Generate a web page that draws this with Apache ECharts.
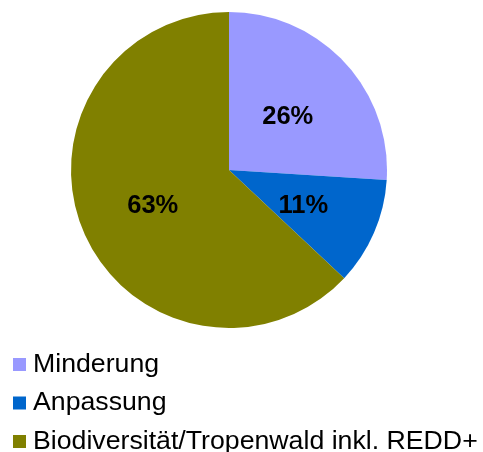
<!DOCTYPE html>
<html>
<head>
<meta charset="utf-8">
<script src="https://cdn.jsdelivr.net/npm/echarts@6/dist/echarts.min.js"></script>
<style>html,body{margin:0;padding:0;background:#fff;}#c{width:483px;height:452px;}</style>
</head>
<body>
<div id="c"></div>
<script>
const categories = ['Minderung', 'Anpassung', 'Biodiversität/Tropenwald inkl. REDD+'];
const values = [26, 11, 63];
const colors = ['#9999FF', '#0066CC', '#808000'];

const chart = echarts.init(document.getElementById('c'), null, {renderer: 'canvas'});
chart.setOption({
  animation: false,
  color: colors,
  legend: {
    orient: 'vertical',
    left: 13,
    top: 351,
    width: 470,
    height: 140,
    itemWidth: 13,
    itemHeight: 13,
    itemGap: 11.5,
    icon: 'rect',
    padding: 0,
    textStyle: {fontFamily: 'Liberation Sans, Arial, sans-serif', fontSize: 26.7, color: '#000', lineHeight: 26, padding: [0, 0, 0, 2]},
    data: categories
  },
  series: [{
    type: 'pie',
    center: [229, 170],
    radius: [0, 158],
    startAngle: 90,
    clockwise: true,
    label: {
      position: 'inside',
      formatter: '{c}%',
      fontFamily: 'Liberation Sans, Arial, sans-serif',
      fontSize: 25.5,
      fontWeight: 'bold',
      color: '#000',
      offset: [-1, 3]
    },
    labelLine: {show: false},
    itemStyle: {borderWidth: 0},
    emphasis: {disabled: true},
    data: categories.map((n, i) => ({name: n, value: values[i]}))
  }]
});
</script>
</body>
</html>
